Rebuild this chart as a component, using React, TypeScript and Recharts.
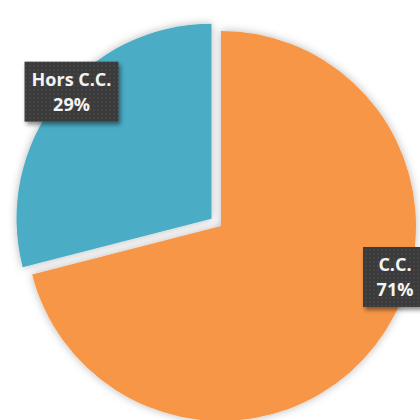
import React from 'react';
import { PieChart, Pie, Cell } from 'recharts';

// chart values
const categories = ['C.C.', 'Hors C.C.'];
const shares = [71, 29];

const colors = ['#F79646', '#4BACC6'];
const EXPLODED = 1; // index of the pulled-out slice
const EXPLODE_PX = 12;
const RAD = Math.PI / 180;

// label box centers, relative to each slice's pie center
const labelOffsets = [
  { dx: 174, dy: 51, w: 64 },
  { dx: -140, dy: -127, w: 94 },
];

const data = categories.map((name, i) => ({ name, value: shares[i] }));

const total = shares.reduce((a, b) => a + b, 0);
const startOf = (i: number) => 90 - (shares.slice(0, i).reduce((a, b) => a + b, 0) / total) * 360;
const midOf = (i: number) => startOf(i) - (shares[i] / total) * 180;

const CX = 221;
const CY = 226;
const R = 195;
const mid = midOf(EXPLODED);
const exCx = CX + EXPLODE_PX * Math.cos(mid * RAD);
const exCy = CY - EXPLODE_PX * Math.sin(mid * RAD);

const renderLabel = (showIndex: number) => (props: any) => {
  if (props.index !== showIndex) return <g />;
  const o = labelOffsets[showIndex];
  const x = props.cx + o.dx;
  const y = props.cy + o.dy;
  const h = 60;
  return (
    <g>
      <rect x={x - o.w / 2} y={y - h / 2} width={o.w} height={h} fill="url(#dots)" filter="url(#boxShadow)" />
      <text x={x} y={y - 6} textAnchor="middle" fill="#f4f4f4" fontSize={18} fontWeight={700} fontFamily="Open Sans">
        {props.name}
      </text>
      <text x={x} y={y + 19} textAnchor="middle" fill="#f4f4f4" fontSize={18} fontWeight={700} fontFamily="Open Sans">
        {Math.round(props.percent * 100)}%
      </text>
    </g>
  );
};

export default function App() {
  return (
    <div style={{ position: 'absolute', left: 0, top: 0, width: 420, height: 420, background: '#fff', overflow: 'hidden' }}>
      <PieChart width={420} height={420} margin={{ top: 0, right: 0, bottom: 0, left: 0 }}>
        <defs>
          <filter id="pieShadow" x="-20%" y="-20%" width="140%" height="140%">
            <feDropShadow dx="0" dy="0" stdDeviation="4" floodColor="#000" floodOpacity="0.28" />
          </filter>
          <filter id="boxShadow" x="-20%" y="-20%" width="150%" height="150%">
            <feDropShadow dx="2" dy="3" stdDeviation="2" floodColor="#000" floodOpacity="0.45" />
          </filter>
          <pattern id="dots" width="4" height="4" patternUnits="userSpaceOnUse">
            <rect width="4" height="4" fill="#3a3a3a" />
            <circle cx="2" cy="2" r="0.9" fill="#4a4a4a" />
          </pattern>
        </defs>
        <Pie
          data={data}
          dataKey="value"
          nameKey="name"
          cx={CX}
          cy={CY}
          outerRadius={R}
          startAngle={90}
          endAngle={-270}
          stroke="none"
          labelLine={false}
          label={renderLabel(0)}
          isAnimationActive={false}
        >
          {data.map((d, i) => (
            <Cell key={d.name} fill={i === EXPLODED ? 'none' : colors[i]} filter="url(#pieShadow)" />
          ))}
        </Pie>
        <Pie
          data={data}
          dataKey="value"
          nameKey="name"
          cx={exCx}
          cy={exCy}
          outerRadius={R}
          startAngle={90}
          endAngle={-270}
          stroke="none"
          labelLine={false}
          label={renderLabel(EXPLODED)}
          isAnimationActive={false}
        >
          {data.map((d, i) => (
            <Cell key={d.name} fill={i === EXPLODED ? colors[i] : 'none'} filter="url(#pieShadow)" />
          ))}
        </Pie>
      </PieChart>
    </div>
  );
}
